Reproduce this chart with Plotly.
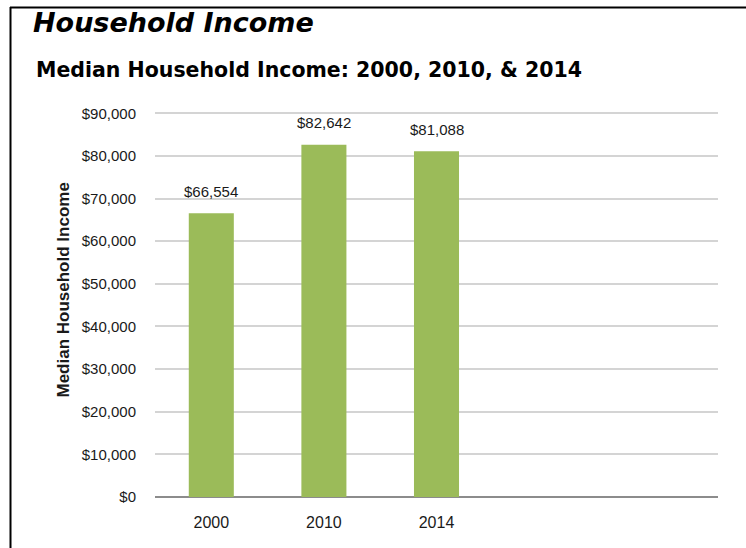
import plotly.graph_objects as go

BAR_GREEN = "#9bbb59"
TXT = "#1a1a1a"
ARIAL = "Liberation Sans, Arial, sans-serif"
VERDANA = "DejaVu Sans, Verdana, sans-serif"

years = ["2000", "2010", "2014"]
income = [66554, 82642, 81088]
labels = ["$66,554", "$82,642", "$81,088"]
y_ticks = [0, 10000, 20000, 30000, 40000, 50000, 60000, 70000, 80000, 90000]
y_ticktext = ["$0", "$10,000", "$20,000", "$30,000", "$40,000",
              "$50,000", "$60,000", "$70,000", "$80,000", "$90,000"]

# plot area in pixels: x 155..718, y 109..497 (range top 91,000 so $90k sits at ~113)
L, R, T, B = 155, 718, 109, 497
W, H = 746, 548


def px(x):
    return (x - L) / (R - L)


def py(y):
    return (B - y) / (B - T)


fig = go.Figure(
    go.Bar(
        x=list(range(len(years))),
        y=income,
        marker_color=BAR_GREEN,
        marker_line_width=0,
        width=0.4,
        hoverinfo="skip",
    )
)

# value labels above bars
for i, (v, t) in enumerate(zip(income, labels)):
    fig.add_annotation(
        x=i, y=v, text=t, showarrow=False, yanchor="middle", yshift=22,
        font=dict(family=ARIAL, size=15, color=TXT),
    )

# titles
fig.add_annotation(
    x=px(31), y=py(23), xref="paper", yref="paper", xanchor="left", yanchor="middle",
    text="<b><i>Household Income</i></b>", showarrow=False,
    font=dict(family=VERDANA, size=27, color="#000000"),
)
fig.add_annotation(
    x=px(34), y=py(70), xref="paper", yref="paper", xanchor="left", yanchor="middle",
    text="<b>Median Household Income: 2000, 2010, & 2014</b>", showarrow=False,
    font=dict(family=VERDANA, size=20.5, color="#000000"),
)
fig.add_annotation(
    x=px(51), y=py(290), xref="paper", yref="paper", textangle=-90,
    text="<b>Median Household Income</b>", showarrow=False,
    font=dict(family=ARIAL, size=17, color=TXT),
)

# frame lines (left and top)
fig.add_shape(type="line", xref="paper", yref="paper",
              x0=px(10.5), x1=px(10.5), y0=py(7), y1=py(560),
              line=dict(color="#000000", width=2))
fig.add_shape(type="line", xref="paper", yref="paper",
              x0=px(10), x1=px(760), y0=py(7.5), y1=py(7.5),
              line=dict(color="#000000", width=2))

fig.update_layout(
    width=W,
    height=H,
    margin=dict(l=L, r=W - R, t=T, b=H - B, autoexpand=False),
    plot_bgcolor="white",
    paper_bgcolor="white",
    showlegend=False,
)
fig.update_xaxes(
    range=[-0.5, 4.5],
    tickvals=list(range(len(years))),
    ticktext=years,
    showgrid=False,
    showline=False,
    zeroline=False,
    ticks="",
    tickfont=dict(family=ARIAL, size=16, color=TXT),
    ticklabelstandoff=14,
)
fig.update_yaxes(
    range=[0, 91000],
    tickvals=y_ticks,
    ticktext=y_ticktext,
    showgrid=True,
    gridcolor="#d4d4d4",
    gridwidth=1.5,
    zeroline=True,
    zerolinecolor="#8c8c8c",
    zerolinewidth=2,
    showline=False,
    ticks="",
    tickfont=dict(family=ARIAL, size=15, color=TXT),
    ticklabelstandoff=18,
)

fig.write_html(
    "out.html",
    config={"displayModeBar": False},
    post_script="document.body.style.margin='0';",
)
